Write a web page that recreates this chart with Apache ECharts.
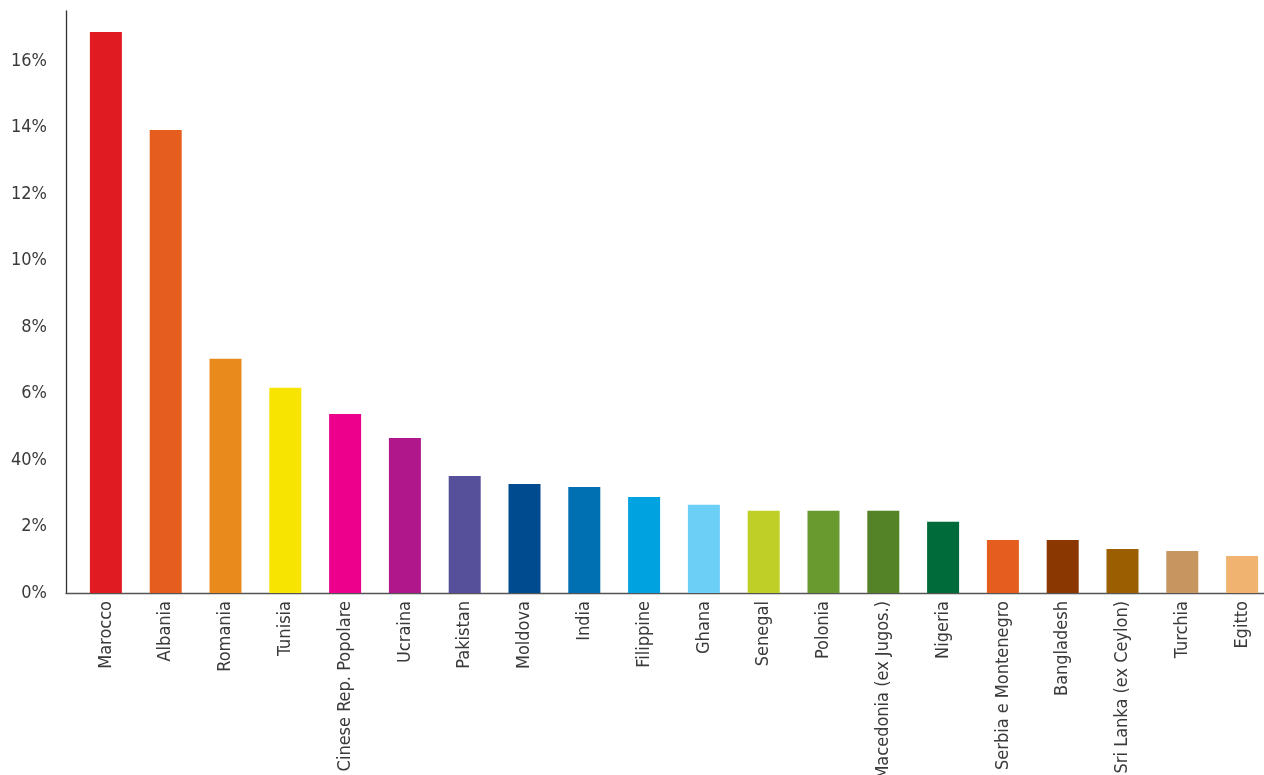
<!DOCTYPE html>
<html>
<head>
  <meta charset="utf-8">
  <title>Paesi</title>
  <style>
    html, body { margin: 0; padding: 0; background: #fff; }
    #chart { width: 1264px; height: 775px; }
  </style>
</head>
<body>
  <div id="chart"></div>
  <script src="https://cdn.jsdelivr.net/npm/echarts@6/dist/echarts.min.js"></script>
  <script>
    // dati (percentuali)
    var paesi = ['Marocco', 'Albania', 'Romania', 'Tunisia', 'Cinese Rep. Popolare', 'Ucraina',
      'Pakistan', 'Moldova', 'India', 'Filippine', 'Ghana', 'Senegal', 'Polonia',
      'Macedonia (ex Jugos.)', 'Nigeria', 'Serbia e Montenegro', 'Bangladesh',
      'Sri Lanka (ex Ceylon)', 'Turchia', 'Egitto'];
    var valori = [16.87, 13.92, 7.04, 6.17, 5.38, 4.66, 3.52, 3.28, 3.19, 2.89,
      2.65, 2.47, 2.47, 2.47, 2.14, 1.59, 1.59, 1.32, 1.26, 1.11];
    var colori = ['#e01b22', '#e55e20', '#e98b1c', '#f7e400', '#ec008c', '#b0178a',
      '#56509b', '#004a8f', '#0070b3', '#00a3e0', '#6ccff6', '#bfcf27', '#699a30',
      '#548226', '#006b3a', '#e55e20', '#8b3701', '#9b5e00', '#c69560', '#f0b370'];
    // etichette asse y (così come nell'originale)
    var tickLabels = ['0%', '2%', '40%', '6%', '8%', '10%', '12%', '14%', '16%'];

    var font = "'Liberation Sans Narrow', 'DejaVu Sans Condensed', sans-serif";
    var chart = echarts.init(document.getElementById('chart'));

    chart.setOption({
      backgroundColor: '#fff',
      animation: false,
      grid: [
        { left: 76, right: -8, top: 11, bottom: 182, outerBoundsMode: 'none', containLabel: false },
        { left: 66, right: 0, top: 11, bottom: 182, outerBoundsMode: 'none', containLabel: false }
      ],
      xAxis: [{
        type: 'category',
        gridIndex: 0,
        data: paesi,
        axisLine: { show: false },
        axisTick: { show: false },
        axisLabel: {
          rotate: 90,
          interval: 0,
          margin: 8,
          color: '#3a3a3a',
          fontSize: 18,
          fontFamily: font
        }
      }, {
        type: 'value',
        gridIndex: 1,
        axisLine: { show: true, lineStyle: { color: '#555', width: 1.3 } },
        axisTick: { show: false },
        axisLabel: { show: false },
        splitLine: { show: false }
      }],
      yAxis: [{
        type: 'value',
        gridIndex: 0,
        min: 0,
        max: 17.5,
        interval: 2,
        show: false
      }, {
        type: 'value',
        gridIndex: 1,
        min: 0,
        max: 17.5,
        interval: 2,
        axisLine: { show: true, lineStyle: { color: '#333', width: 1.3 } },
        axisTick: { show: false },
        splitLine: { show: false },
        axisLabel: {
          margin: 19,
          color: '#3a3a3a',
          fontSize: 18,
          fontFamily: font,
          formatter: function (v) {
            var i = v / 2;
            return Number.isInteger(i) && tickLabels[i] ? tickLabels[i] : '';
          }
        }
      }],
      series: [{
        type: 'bar',
        xAxisIndex: 0,
        yAxisIndex: 0,
        barWidth: 32,
        data: valori.map(function (v, i) {
          return { value: v, itemStyle: { color: colori[i] } };
        })
      }]
    });
  </script>
</body>
</html>
